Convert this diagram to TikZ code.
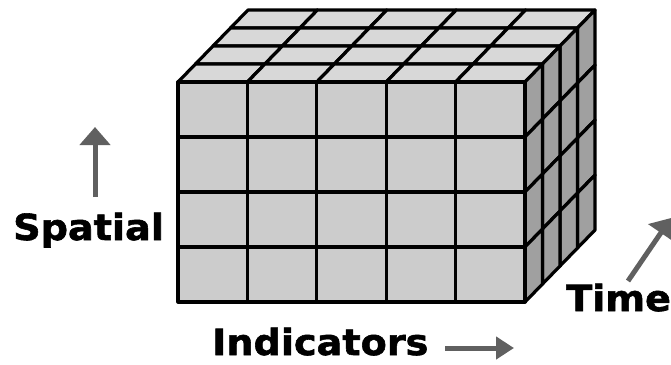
\documentclass[tikz,border=0pt]{standalone}
\usepackage{fontspec}
\setmainfont{DejaVu Sans}
\newfontfamily\lblfont{DejaVu Sans Bold}[FakeBold=1.6,FakeStretch=1.06]
\usetikzlibrary{arrows.meta}
\definecolor{topc}{RGB}{216,216,216}
\definecolor{frontc}{RGB}{204,204,204}
\definecolor{sidec}{RGB}{160,160,160}
\definecolor{arrc}{RGB}{96,96,96}
\tikzset{
  cell/.style={draw=black, line width=3.2bp, line join=round},
  lbl/.style={font=\lblfont\fontsize{36bp}{40bp}\selectfont, inner sep=0pt, anchor=base west},
  axisarrow/.style={draw=arrc, line width=5bp, -{Triangle[width=30bp,length=18bp]}}
}
\begin{document}
\begin{tikzpicture}[x=1bp,y=-1bp]
\useasboundingbox (0,0) rectangle (671,364);
\def\fx{178}\def\fy{82}\def\cw{69.4}\def\rh{55}\def\ddx{17.5}\def\ddy{18}
% top face
\foreach \k in {3,2,1,0}{
  \foreach \i in {0,...,4}{
    \fill[topc] ({\fx+\cw*\i+\ddx*\k},{\fy-\ddy*\k}) -- ++(\cw,0) -- ++(\ddx,-\ddy) -- ++(-\cw,0) -- cycle;
    \draw[cell] ({\fx+\cw*\i+\ddx*\k},{\fy-\ddy*\k}) -- ++(\cw,0) -- ++(\ddx,-\ddy) -- ++(-\cw,0) -- cycle;
  }
}
% side face
\foreach \k in {3,2,1,0}{
  \foreach \j in {0,...,3}{
    \fill[sidec] ({\fx+5*\cw+\ddx*\k},{\fy+\rh*\j-\ddy*\k}) -- ++(\ddx,-\ddy) -- ++(0,\rh) -- ++(-\ddx,\ddy) -- cycle;
    \draw[cell] ({\fx+5*\cw+\ddx*\k},{\fy+\rh*\j-\ddy*\k}) -- ++(\ddx,-\ddy) -- ++(0,\rh) -- ++(-\ddx,\ddy) -- cycle;
  }
}
% front face
\foreach \i in {0,...,4}{
  \foreach \j in {0,...,3}{
    \fill[frontc] ({\fx+\cw*\i},{\fy+\rh*\j}) rectangle ++(\cw,\rh);
    \draw[cell] ({\fx+\cw*\i},{\fy+\rh*\j}) rectangle ++(\cw,\rh);
  }
}
% labels
\node[lbl] (spatial) at (13,240) {Spatial};
\node[lbl] (indicators) at (212,355) {Indicators};
\node[lbl] (time) at (566,311) {Time};
% arrows
\coordinate (sp0) at (95,197); \coordinate (sp1) at (95,127);
\coordinate (in0) at (445,348); \coordinate (in1) at (514,348);
\coordinate (ti0) at (628,281); \coordinate (ti1) at (671,218);
\draw[axisarrow] (sp0) -- (sp1);
\draw[axisarrow, -{Triangle[width=22bp,length=18bp]}] (in0) -- (in1);
\draw[axisarrow] (ti0) -- (ti1);
\end{tikzpicture}
\end{document}
